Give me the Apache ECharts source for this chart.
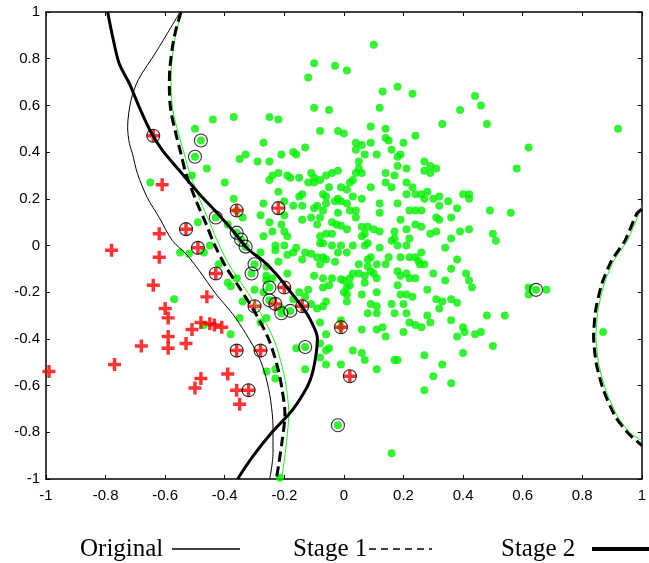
<!DOCTYPE html>
<html>
<head>
<meta charset="utf-8">
<script src="https://cdn.jsdelivr.net/npm/echarts@6/dist/echarts.min.js"></script>
<style>
  html, body { margin: 0; padding: 0; background: #fff; }
  #chart { width: 649px; height: 563px; }
</style>
</head>
<body>
<div id="chart"></div>
<script>
// Axis ticks
const xTicks = [-1, -0.8, -0.6, -0.4, -0.2, 0, 0.2, 0.4, 0.6, 0.8, 1];
const yTicks = [-1, -0.8, -0.6, -0.4, -0.2, 0, 0.2, 0.4, 0.6, 0.8, 1];

// Class +1 samples (green dots)
const greenPoints = [
  [0.10,0.86],[-0.03,0.77],[0.01,0.75],[-0.10,0.78],[-0.12,0.72],[0.13,0.66],[0.18,0.68],[0.23,0.65],[0.44,0.64],[0.46,0.60],
  [0.12,0.59],[-0.05,0.58],[-0.10,0.59],[0.39,0.58],[-0.44,0.54],[-0.37,0.55],[-0.25,0.55],[-0.22,0.54],
  [0.33,0.52],[0.48,0.52],[0.92,0.50],[0.09,0.51],[-0.50,0.50],[-0.08,0.49],[-0.02,0.49],[0.00,0.48],[0.14,0.50],[0.14,0.46],
  [0.15,0.45],[0.24,0.47],[-0.27,0.44],[0.04,0.44],[0.06,0.43],[0.09,0.44],[0.20,0.44],[0.62,0.42],[0.04,0.41],[0.16,0.41],
  [-0.17,0.40],[-0.16,0.39],[-0.21,0.39],[-0.13,0.42],[-0.35,0.37],[-0.33,0.39],[-0.29,0.36],[-0.25,0.36],[0.07,0.39],[0.11,0.39],
  [0.19,0.39],[0.18,0.38],[0.05,0.36],[0.27,0.36],[0.18,0.34],[0.05,0.33],[0.29,0.34],[0.31,0.33],[0.27,0.32],[0.29,0.31],
  [0.58,0.33],[-0.46,0.33],[-0.51,0.30],[-0.24,0.30],[-0.22,0.31],[-0.19,0.30],[-0.18,0.29],[-0.25,0.28],[-0.15,0.29],[-0.12,0.27],
  [-0.10,0.27],[-0.11,0.31],[-0.10,0.29],[-0.08,0.28],[-0.06,0.30],[-0.04,0.31],[-0.02,0.32],[0.04,0.31],[0.06,0.31],[0.14,0.31],
  [0.17,0.30],[0.21,0.33],[-0.65,0.27],[-0.40,0.27],[0.03,0.28],[0.02,0.27],[0.14,0.27],[0.16,0.25],[0.21,0.27],[0.23,0.25],
  [0.09,0.25],[-0.05,0.25],[-0.01,0.25],[0.01,0.24],[-0.07,0.22],[-0.06,0.21],[-0.22,0.23],[-0.14,0.22],[0.21,0.22],[0.24,0.22],
  [0.03,0.21],[-0.03,0.19],[-0.02,0.20],[0.01,0.18],[-0.01,0.19],[-0.06,0.18],[0.06,0.20],[-0.37,0.20],[-0.27,0.18],[-0.20,0.19],
  [-0.15,0.21],[-0.17,0.17],[-0.14,0.17],[-0.09,0.17],[-0.10,0.16],[-0.07,0.15],[0.12,0.18],[0.18,0.18],[0.02,0.15],[0.04,0.15],
  [-0.02,0.14],[0.04,0.12],[0.22,0.15],[0.24,0.15],[0.12,0.14],[-0.11,0.12],[-0.08,0.12],[-0.09,0.09],[-0.04,0.10],[-0.025,0.09],
  [-0.01,0.085],[0.01,0.07],[0.06,0.08],[0.08,0.08],[0.10,0.07],[0.12,0.06],[0.06,0.04],[0.07,0.05],[0.19,0.11],[0.21,0.07],
  [0.24,0.09],[0.17,0.06],[-0.04,0.05],[0.16,0.02],[0.17,0.03],[0.18,0.00],[0.08,0.01],[0.07,0.00],[-0.08,0.01],[-0.04,0.00],
  [-0.01,0.00],[0.03,0.00],[0.22,0.03],[0.21,0.00],[0.12,-0.01],
  [0.26,0.22],[0.28,0.23],[0.27,0.20],[0.30,0.20],[0.32,0.21],[0.35,0.19],[0.40,0.22],[0.42,0.22],[0.42,0.20],[0.26,0.15],
  [0.32,0.17],[0.38,0.16],[0.49,0.15],[0.56,0.14],[0.31,0.12],[0.32,0.11],[0.36,0.12],[0.26,0.08],[0.29,0.05],[0.31,0.06],
  [0.39,0.06],[0.42,0.07],[0.36,0.03],[0.50,0.05],[0.51,0.02],[0.34,-0.01],
  [-0.28,0.13],[-0.34,0.12],[-0.25,0.10],[-0.20,0.13],[-0.21,0.09],[-0.14,0.11],[-0.39,0.09],[-0.27,0.04],[-0.24,0.06],[-0.20,0.06],
  [-0.19,0.04],[-0.45,0.00],[-0.23,0.00],[-0.20,0.00],[-0.16,-0.01],[-0.49,0.10],[-0.07,0.01],[-0.08,0.04],[-0.06,0.05],
  [-0.48,0.45],[-0.50,0.38],[-0.43,0.12],[-0.36,0.055],[-0.345,0.025],[-0.33,-0.005],
  [-0.47,-0.03],[-0.55,-0.03],[-0.52,-0.035],[-0.42,-0.08],[-0.39,-0.16],[-0.38,-0.175],[-0.36,-0.14],[-0.28,-0.03],[-0.22,-0.07],
  [-0.19,-0.12],[-0.26,-0.13],[-0.27,-0.20],[-0.30,-0.19],[-0.21,-0.27],[-0.34,-0.24],[-0.35,-0.31],[-0.28,-0.33],[-0.26,-0.31],
  [-0.38,-0.38],[-0.15,-0.20],[-0.13,-0.22],[-0.47,-0.34],[-0.57,-0.23],[-0.16,-0.44],[-0.13,-0.53],[-0.26,-0.54],[-0.23,-0.53],
  [-0.23,-0.57],[-0.26,-0.15],[-0.08,-0.48],[-0.06,-0.45],[-0.08,-0.33],[-0.11,-0.25],[-0.12,-0.19],[-0.17,-0.23],[-0.07,-0.26],
  [-0.06,-0.24],[-0.10,-0.13],[-0.08,-0.08],[-0.06,-0.06],[-0.07,-0.14],[-0.14,-0.06],[-0.23,-0.02],[-0.26,-0.09],[-0.24,-0.14],
  [-0.19,-0.04],[-0.17,-0.03],[-0.13,-0.03],[-0.11,-0.035],[-0.09,-0.05],[-0.07,-0.05],
  [-0.03,-0.07],[0.01,-0.03],[-0.02,-0.03],[0.08,-0.06],[0.09,-0.05],[0.11,-0.08],[0.14,-0.08],[0.15,-0.05],[0.19,-0.05],[0.22,-0.05],
  [0.24,-0.05],[0.25,-0.065],[0.05,-0.08],[0.03,-0.12],[0.05,-0.12],[0.08,-0.09],[0.10,-0.12],[0.11,-0.14],[0.09,-0.11],[0.07,-0.13],
  [0.02,-0.14],[0.00,-0.15],[-0.01,-0.145],[-0.04,-0.14],[0.18,-0.11],[0.19,-0.13],[0.21,-0.12],[0.22,-0.14],[0.24,-0.14],[0.18,-0.17],
  [0.02,-0.17],[0.01,-0.18],[0.07,-0.16],[-0.07,-0.18],[-0.05,-0.17],[0.00,-0.20],[0.01,-0.21],[0.06,-0.21],[0.11,-0.20],[0.19,-0.21],
  [0.21,-0.21],[0.23,-0.22],[0.01,-0.24],[-0.09,-0.27],[0.09,-0.25],[0.11,-0.26],[0.16,-0.25],[0.20,-0.25],[0.08,-0.29],[0.11,-0.29],
  [0.17,-0.29],[0.21,-0.29],[0.22,-0.33],[0.24,-0.34],[-0.01,-0.32],[-0.06,-0.38],[0.06,-0.36],[0.11,-0.36],[0.13,-0.35],[0.14,-0.39],
  [0.20,-0.37],[-0.08,-0.42],[-0.05,-0.44],[0.03,-0.45],[0.06,-0.46],[0.07,-0.49],[0.17,-0.49],[0.18,-0.49],[-0.06,-0.51],[-0.01,-0.51],
  [0.11,-0.53],
  [0.26,-0.03],[0.38,-0.06],[0.255,-0.08],[0.27,-0.08],[0.36,-0.10],[0.30,-0.12],[0.41,-0.12],[0.42,-0.15],[0.43,-0.18],[0.34,-0.15],
  [0.28,-0.19],[0.31,-0.23],[0.33,-0.24],[0.36,-0.23],[0.38,-0.245],[0.32,-0.27],[0.62,-0.18],[0.62,-0.21],[0.68,-0.19],[0.645,-0.19],
  [0.28,-0.30],[0.29,-0.33],[0.26,-0.35],[0.36,-0.32],[0.48,-0.30],[0.54,-0.30],[0.40,-0.35],[0.405,-0.37],[0.46,-0.37],[0.44,-0.38],
  [0.38,-0.39],[0.50,-0.43],[0.27,-0.47],[0.40,-0.46],[0.33,-0.51],[0.30,-0.56],[0.36,-0.59],[0.27,-0.62],[0.16,-0.89],[0.87,-0.37],
  [-0.02,-0.77],[-0.215,-0.995],
  [-0.30,-0.08],[-0.31,-0.12],[-0.25,-0.18],[-0.25,-0.235],[-0.21,-0.29],[-0.18,-0.28],[-0.13,-0.435],[-0.01,-0.35],[-0.36,0.15]
];

// Class -1 samples (red crosses)
const redPoints = [
  [-0.99,-0.54],[-0.78,-0.02],[-0.62,-0.05],[-0.64,-0.17],[-0.60,-0.27],[-0.59,-0.31],[-0.59,-0.39],[-0.59,-0.44],[-0.68,-0.43],
  [-0.77,-0.51],[-0.53,-0.42],[-0.51,-0.36],[-0.46,-0.22],[-0.48,-0.33],[-0.45,-0.335],[-0.435,-0.34],[-0.41,-0.35],[-0.48,-0.57],
  [-0.50,-0.61],[-0.39,-0.55],[-0.36,-0.62],[-0.35,-0.68],[-0.61,0.26],[-0.62,0.05],
  [-0.64,0.47],[-0.53,0.07],[-0.49,-0.01],[-0.43,-0.12],[-0.36,-0.45],[-0.28,-0.45],[-0.32,-0.62],[-0.30,-0.26],[-0.23,-0.25],
  [-0.20,-0.18],[-0.14,-0.26],[-0.36,0.15],[-0.22,0.16],[-0.01,-0.35],[0.02,-0.56]
];

// Circled samples (support vectors)
const circledPoints = [
  [-0.48,0.45],[-0.50,0.38],[-0.43,0.12],[-0.36,0.055],[-0.345,0.025],[-0.33,-0.005],[-0.30,-0.08],[-0.31,-0.12],[-0.25,-0.18],
  [-0.25,-0.235],[-0.21,-0.29],[-0.18,-0.28],[-0.13,-0.435],[0.645,-0.19],[-0.02,-0.77],
  [-0.64,0.47],[-0.53,0.07],[-0.49,-0.01],[-0.43,-0.12],[-0.36,-0.45],[-0.28,-0.45],[-0.32,-0.62],[-0.30,-0.26],[-0.23,-0.25],
  [-0.20,-0.18],[-0.14,-0.26],[-0.36,0.15],[-0.22,0.16],[-0.01,-0.35],[0.02,-0.56]
];

// Decision boundaries
const originalCurve = [
  [-0.55,1.0],[-0.63,0.83],[-0.69,0.71],[-0.715,0.62],[-0.726,0.506],[-0.72,0.436],[-0.71,0.394],[-0.693,0.308],[-0.66,0.205],
  [-0.62,0.12],[-0.576,0.021],[-0.53,-0.036],[-0.486,-0.107],[-0.43,-0.207],[-0.374,-0.292],[-0.329,-0.378],[-0.285,-0.478],
  [-0.262,-0.563],[-0.246,-0.663],[-0.238,-0.777],[-0.238,-0.891],[-0.249,-1.0]
];
const stage1Left = [
  [-0.547,1.0],[-0.57,0.891],[-0.584,0.763],[-0.586,0.678],[-0.581,0.578],[-0.564,0.479],[-0.547,0.393],[-0.53,0.308],
  [-0.497,0.194],[-0.463,0.094],[-0.436,0.008],[-0.396,-0.092],[-0.352,-0.178],[-0.296,-0.292],[-0.251,-0.406],[-0.223,-0.52],
  [-0.207,-0.62],[-0.198,-0.72],[-0.207,-0.833],[-0.22,-0.947],[-0.227,-1.0]
];
const stage1Right = [
  [1.0,0.155],[0.983,0.136],[0.944,0.022],[0.899,-0.063],[0.866,-0.163],[0.845,-0.277],[0.838,-0.391],[0.847,-0.505],
  [0.871,-0.619],[0.911,-0.733],[0.955,-0.805],[0.994,-0.85],[1.0,-0.858]
];
const refLeft = [
  [-0.545,1.0],[-0.566,0.891],[-0.579,0.763],[-0.58,0.678],[-0.574,0.578],[-0.555,0.479],[-0.536,0.393],[-0.517,0.308],
  [-0.483,0.194],[-0.449,0.094],[-0.421,0.008],[-0.381,-0.092],[-0.335,-0.178],[-0.279,-0.292],[-0.234,-0.406],[-0.207,-0.52],
  [-0.192,-0.62],[-0.185,-0.72],[-0.192,-0.833],[-0.203,-0.947],[-0.209,-1.0]
];
const refRight = [
  [1.0,0.17],[0.99,0.136],[0.952,0.022],[0.907,-0.063],[0.874,-0.163],[0.853,-0.277],[0.846,-0.391],[0.855,-0.505],
  [0.879,-0.619],[0.919,-0.733],[0.963,-0.805],[1.0,-0.835]
];
const stage2Curve = [
  [-0.793,1.0],[-0.776,0.892],[-0.754,0.778],[-0.72,0.693],[-0.687,0.593],[-0.648,0.486],[-0.609,0.407],[-0.553,0.322],
  [-0.486,0.222],[-0.424,0.137],[-0.374,0.065],[-0.324,-0.013],[-0.274,-0.063],[-0.229,-0.12],[-0.184,-0.191],[-0.14,-0.263],
  [-0.112,-0.32],[-0.089,-0.398],[-0.093,-0.462],[-0.106,-0.548],[-0.123,-0.605],[-0.173,-0.705],[-0.24,-0.798],[-0.307,-0.905],
  [-0.357,-1.0]
];

const plusPath = 'path://M4.4,0H7.6V4.4H12V7.6H7.6V12H4.4V7.6H0V4.4H4.4Z';
const labelFont = 'Liberation Sans, Arial, sans-serif';
const legendFont = '25px "Liberation Serif", "Times New Roman", serif';

function valueAxis(position, showLabel, ticks) {
  return {
    type: 'value', min: ticks[0], max: ticks[ticks.length - 1], interval: 0.2,
    position: position,
    axisLine: { show: true, onZero: false, lineStyle: { color: '#000', width: 1.5 } },
    axisTick: { show: true, inside: true, length: 4, lineStyle: { color: '#000', width: 1 } },
    axisLabel: { show: showLabel, color: '#000', fontSize: 15, fontFamily: labelFont,
                 margin: position === 'bottom' ? 9 : 6 },
    splitLine: { show: false }
  };
}

function curve(data, color, width, dash, z, smooth) {
  return {
    type: 'line', data: data, showSymbol: false, smooth: smooth, z: z, silent: true,
    lineStyle: { color: color, width: width, type: dash || 'solid' }
  };
}

const chart = echarts.init(document.getElementById('chart'), null, { renderer: 'canvas' });
chart.setOption({
  animation: false,
  backgroundColor: '#fff',
  grid: { left: 46, right: 6, top: 12, bottom: 84 },
  xAxis: [valueAxis('bottom', true, xTicks), valueAxis('top', false, xTicks)],
  yAxis: [valueAxis('left', true, yTicks), valueAxis('right', false, yTicks)],
  series: [
    { type: 'scatter', data: greenPoints, symbol: 'circle', symbolSize: 8,
      itemStyle: { color: '#00f000' }, z: 2 },
    { type: 'scatter', data: redPoints, symbol: plusPath, symbolSize: 13,
      itemStyle: { color: '#ff0000' }, z: 3 },
    { type: 'scatter', data: circledPoints, symbol: 'circle', symbolSize: 13,
      itemStyle: { color: 'rgba(0,0,0,0)', borderColor: '#000', borderWidth: 1.1 }, z: 4 },
    curve(refLeft, '#22ee22', 1, 'solid', 5, 0.3),
    curve(refRight, '#22ee22', 1, 'solid', 5, 0.2),
    curve(originalCurve, '#000', 1, 'solid', 6, 0.3),
    curve(stage1Left, '#000', 3, [10, 5], 6, 0.3),
    curve(stage1Right, '#000', 3, [10, 5], 6, 0.2),
    curve(stage2Curve, '#000', 3, 'solid', 7, 0.3)
  ],
  graphic: [
    { type: 'text', left: 80, top: 537, style: { text: 'Original', font: legendFont, fill: '#000' } },
    { type: 'line', shape: { x1: 172, y1: 549, x2: 240, y2: 549 }, style: { stroke: '#000', lineWidth: 1.5 } },
    { type: 'text', left: 293, top: 537, style: { text: 'Stage 1', font: legendFont, fill: '#000' } },
    { type: 'line', shape: { x1: 369, y1: 549, x2: 432, y2: 549 }, style: { stroke: '#000', lineWidth: 1.5, lineDash: [7, 5] } },
    { type: 'text', left: 501, top: 537, style: { text: 'Stage 2', font: legendFont, fill: '#000' } },
    { type: 'line', shape: { x1: 592, y1: 549, x2: 649, y2: 549 }, style: { stroke: '#000', lineWidth: 4 } }
  ]
});
</script>
</body>
</html>
